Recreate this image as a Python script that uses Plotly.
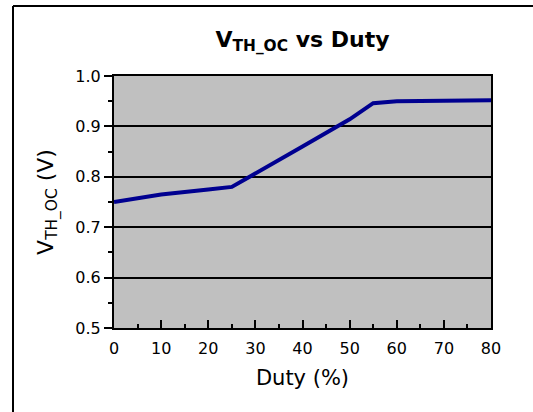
import plotly.graph_objects as go

duty = [0, 10, 20, 25, 40, 50, 55, 60, 70, 80]
vth = [0.75, 0.765, 0.775, 0.78, 0.86, 0.914, 0.946, 0.95, 0.951, 0.952]

x_ticks = [0, 10, 20, 30, 40, 50, 60, 70, 80]
y_ticks = [0.5, 0.6, 0.7, 0.8, 0.9, 1.0]
y_labels = ["0.5", "0.6", "0.7", "0.8", "0.9", "1.0"]

W, H = 533, 412
L, R, T, B = 114, 42, 76, 84
pw, ph = W - L - R, H - T - B

fig = go.Figure()
fig.add_trace(go.Scatter(x=duty, y=vth, mode="lines",
                         line=dict(color="#000090", width=4), showlegend=False))

font = "DejaVu Sans, Arial, sans-serif"
fig.update_layout(
    width=W, height=H,
    margin=dict(l=L, r=R, t=T, b=B),
    paper_bgcolor="white", plot_bgcolor="#C0C0C0",
    font=dict(family=font, color="black"),
    title=dict(text="<b>V<sub>TH_OC</sub> vs Duty</b>", x=(L + pw / 2) / W, xanchor="center",
               y=1 - 39 / H, yanchor="middle", font=dict(size=22, family=font, color="black")),
    xaxis=dict(range=[0, 80], tickvals=x_ticks, ticks="inside", ticklen=8, tickwidth=1.5,
               tickcolor="black", showline=True, linecolor="black", linewidth=2, mirror=True,
               showgrid=False, zeroline=False, tickfont=dict(size=16), ticklabelstandoff=5,
               minor=dict(dtick=5, ticks="inside", ticklen=4, tickwidth=1.5, tickcolor="black"),
               title=dict(text="Duty (%)", font=dict(size=21), standoff=13)),
    yaxis=dict(range=[0.5, 1.0], tickvals=y_ticks, ticktext=y_labels, ticks="outside", ticklen=8,
               tickwidth=1.5, tickcolor="black", showline=True, linecolor="black", linewidth=2,
               mirror=True, showgrid=True, gridcolor="black", gridwidth=1.5, zeroline=False,
               tickfont=dict(size=16),
               minor=dict(tickvals=[0.55, 0.65, 0.75, 0.85, 0.95], ticks="outside", ticklen=4,
                          tickwidth=1.5, tickcolor="black", showgrid=False),
               title=dict(text="V<sub>TH_OC</sub> (V)", font=dict(size=22), standoff=16)),
)

# outer frame (left and top edges visible)
fx = (13 - L) / pw
fy = (H - B - 6) / ph
fx_end = (W + 20 - L) / pw
fig.add_shape(type="line", xref="paper", yref="paper", x0=fx, x1=fx, y0=-0.5, y1=fy,
              line=dict(color="black", width=2))
fig.add_shape(type="line", xref="paper", yref="paper", x0=fx, x1=fx_end, y0=fy, y1=fy,
              line=dict(color="black", width=2))

fig.write_html("out.html", config={"displayModeBar": False},
               post_script="document.body.style.margin='0px';document.body.style.overflow='hidden';"
                           "document.documentElement.style.overflow='hidden';")
